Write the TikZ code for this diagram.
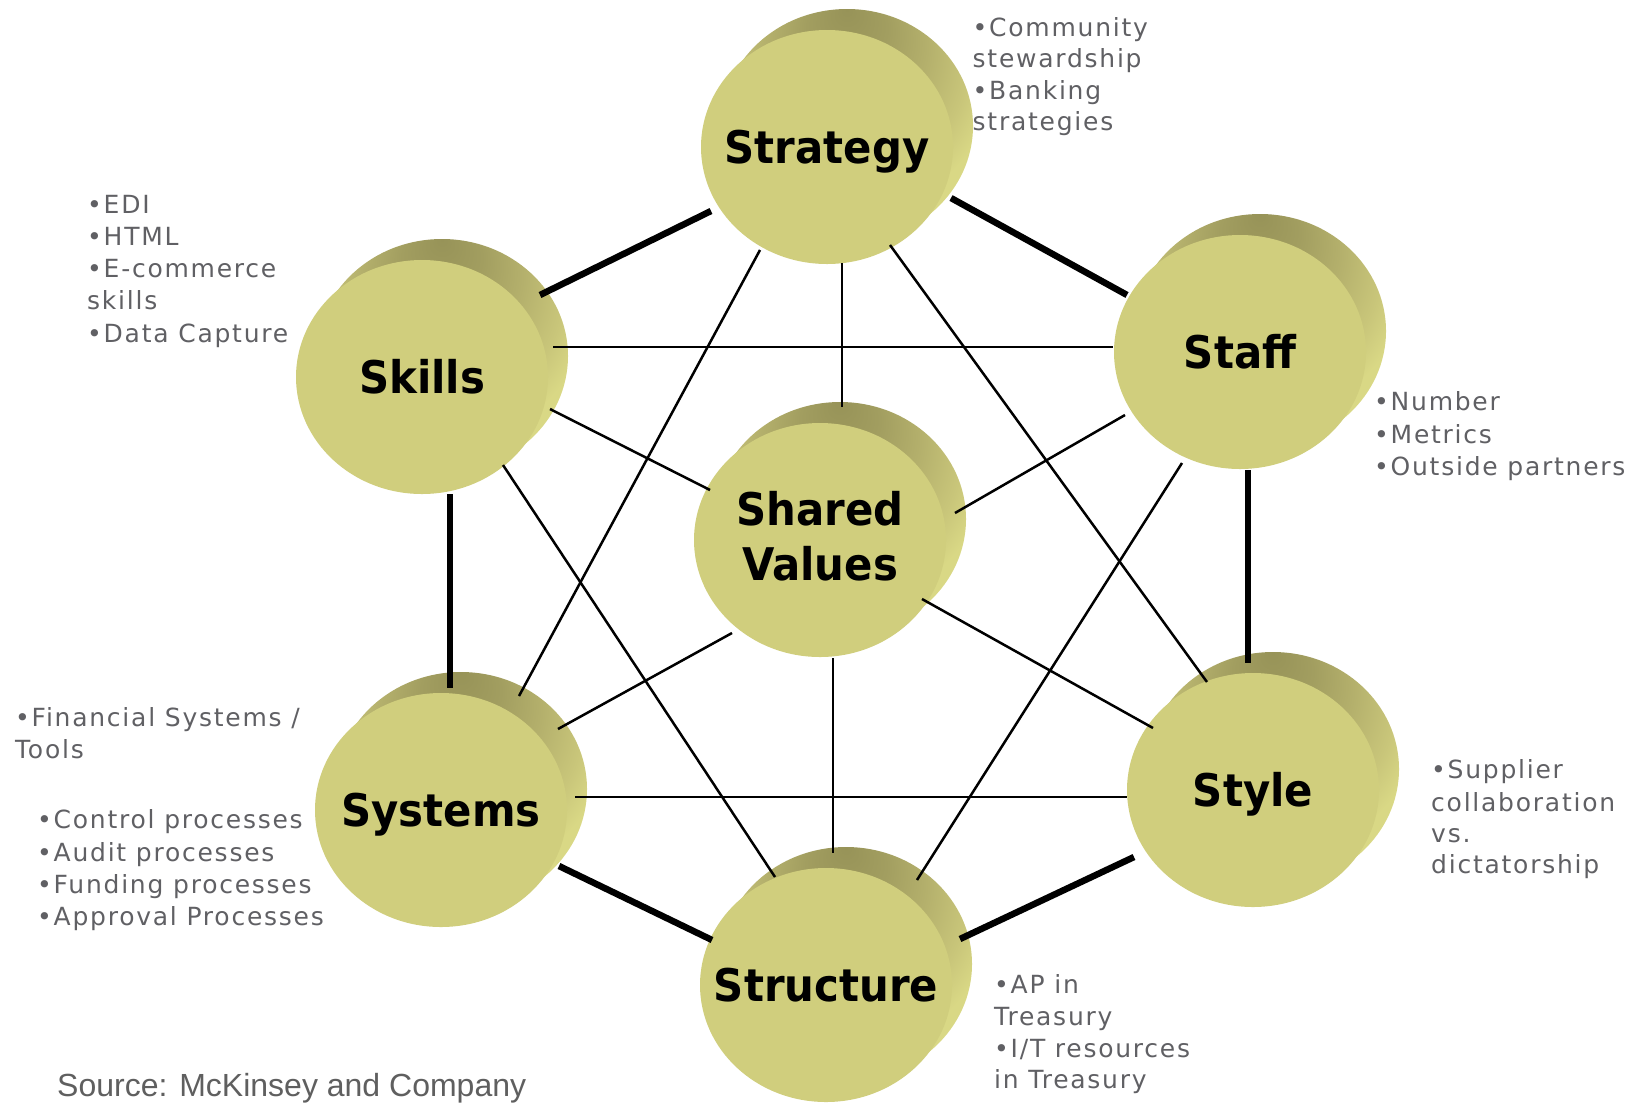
\documentclass[tikz,border=0pt]{standalone}
\usepackage{fontspec}
\usetikzlibrary{backgrounds}
\newfontfamily\lblfont{DejaVu Sans}[FakeStretch=0.93]
\newfontfamily\annfont{DejaVu Sans}[LetterSpace=7]
\newfontfamily\srcfont{Liberation Sans}
\definecolor{discfront}{RGB}{208,206,125}
\definecolor{bkA}{RGB}{151,147,88}
\definecolor{bkB}{RGB}{162,158,96}
\definecolor{bkC}{RGB}{180,176,108}
\definecolor{bkD}{RGB}{201,198,122}
\definecolor{bkE}{RGB}{217,216,133}
\definecolor{anngray}{RGB}{96,96,100}
\definecolor{srcgray}{RGB}{95,95,95}
\pgfdeclareradialshading{cylside}{\pgfpoint{0bp}{25bp}}{color(0bp)=(bkA); color(8bp)=(bkB); color(16bp)=(bkC); color(24bp)=(bkD); color(29bp)=(bkE); color(50bp)=(bkE)}
\tikzset{
  lblbase/.style={inner sep=0pt, text=black, font={\lblfont\bfseries\fontsize{45}{55}\selectfont}},
  lbl/.style={lblbase, text height=33pt, text depth=0pt},
  ann/.style={inner sep=0pt, anchor=base west, text=anngray, font={\annfont\fontsize{25}{31.7}\selectfont}},
  src/.style={inner sep=0pt, anchor=base west, text=srcgray, font={\srcfont\fontsize{32}{38}\selectfont}},
  hexline/.style={line width=6.5pt, black},
  webline/.style={line width=2.5pt, black}
}
\begin{document}
\begin{tikzpicture}[x=1pt,y=-1pt]
\useasboundingbox (0,0) rectangle (1640,1104);
% element labels (disc centres)
\node[lbl] (strategy)  at (827,147) {Strategy};
\node[lbl] (skills)    at (422,377) {Skills};
\node[lbl] (staff)     at (1240,352) {Staff};
\node[lblbase, text height=80pt, text depth=0pt] (shared) at (820,540)
  {\vbox{\baselineskip=55pt\relax\hbox to 180pt{\hss Shared\hss}\hbox to 180pt{\hss Values\hss}}};
\node[lbl] (systems)   at (441,810) {Systems};
\node[lbl] (style)     at (1253,790) {Style};
\node[lbl] (structure) at (826,985) {Structure};
% 3D discs behind the labels
\begin{scope}[on background layer]
\foreach \n in {strategy,skills,staff,shared,systems,style,structure}{
  \shade[shading=cylside] ([shift={(20,-21)}]\n.center) ellipse [x radius=126pt, y radius=117pt];
  \fill[discfront] (\n.center) ellipse [x radius=126pt, y radius=117pt];
}
\end{scope}
% outer hexagon (thick)
\draw[hexline] ([shift={(-116,64)}]strategy.center) -- ([shift={(118,-82)}]skills.center);
\draw[hexline] ([shift={(124,51)}]strategy.center) -- ([shift={(-113,-57)}]staff.center);
\draw[hexline] ([shift={(8,118)}]staff.center) -- ([shift={(-5,-127)}]style.center);
\draw[hexline] ([shift={(28,117)}]skills.center) -- ([shift={(9,-122)}]systems.center);
\draw[hexline] ([shift={(118,56)}]systems.center) -- ([shift={(-114,-45)}]structure.center);
\draw[hexline] ([shift={(134,-46)}]structure.center) -- ([shift={(-119,67)}]style.center);
% inner web (thin)
\draw[webline] ([shift={(15,116)}]strategy.center) -- ([shift={(22,-133)}]shared.center);
\draw[webline] ([shift={(131,-30)}]skills.center) -- ([shift={(-127,-5)}]staff.center);
\draw[webline] ([shift={(134,-13)}]systems.center) -- ([shift={(-126,7)}]style.center);
\draw[webline] ([shift={(13,118)}]shared.center) -- ([shift={(7,-132)}]structure.center);
\draw[webline] ([shift={(-67,103)}]strategy.center) -- ([shift={(78,-114)}]systems.center);
\draw[webline] ([shift={(63,98)}]strategy.center) -- ([shift={(-46,-108)}]style.center);
\draw[webline] ([shift={(128,32)}]skills.center) -- ([shift={(-110,-50)}]shared.center);
\draw[webline] ([shift={(81,88)}]skills.center) -- ([shift={(-51,-108)}]structure.center);
\draw[webline] ([shift={(-115,63)}]staff.center) -- ([shift={(135,-27)}]shared.center);
\draw[webline] ([shift={(-58,111)}]staff.center) -- ([shift={(91,-105)}]structure.center);
\draw[webline] ([shift={(-88,93)}]shared.center) -- ([shift={(117,-81)}]systems.center);
\draw[webline] ([shift={(102,59)}]shared.center) -- ([shift={(-100,-62)}]style.center);
% annotations
\node[ann] (stA) at (972.5,36)   {•Community};
\node[ann] (stB) at (972.5,67.5) {stewardship};
\node[ann] (stC) at (972.5,99)   {•Banking};
\node[ann] (stD) at (972.5,130.5){strategies};
\node[ann] (skA) at (87,213) {•EDI};
\node[ann] (skB) at (87,245) {•HTML};
\node[ann] (skC) at (87,277) {•E-commerce};
\node[ann] (skD) at (87,309) {skills};
\node[ann] (skE) at (87,342) {•Data Capture};
\node[ann] (sfA) at (1374,410) {•Number};
\node[ann] (sfB) at (1374,443) {•Metrics};
\node[ann] (sfC) at (1374,475) {•Outside partners};
\node[ann] (slA) at (1431,778) {•Supplier};
\node[ann] (slB) at (1431,811) {collaboration};
\node[ann] (slC) at (1431,842) {vs.};
\node[ann] (slD) at (1431,873) {dictatorship};
\node[ann] (suA) at (994,993)  {•AP in};
\node[ann] (suB) at (994,1025) {Treasury};
\node[ann] (suC) at (994,1057) {•I/T resources};
\node[ann] (suD) at (994,1088) {in Treasury};
\node[ann] (syA) at (15,726) {•Financial Systems /};
\node[ann] (syB) at (15,758) {Tools};
\node[ann] (syC) at (37,828) {•Control processes};
\node[ann] (syD) at (37,861) {•Audit processes};
\node[ann] (syE) at (37,893) {•Funding processes};
\node[ann] (syF) at (37,925) {•Approval Processes};
\node[src] (source) at (57,1096) {Source: McKinsey and Company};
\end{tikzpicture}
\end{document}
